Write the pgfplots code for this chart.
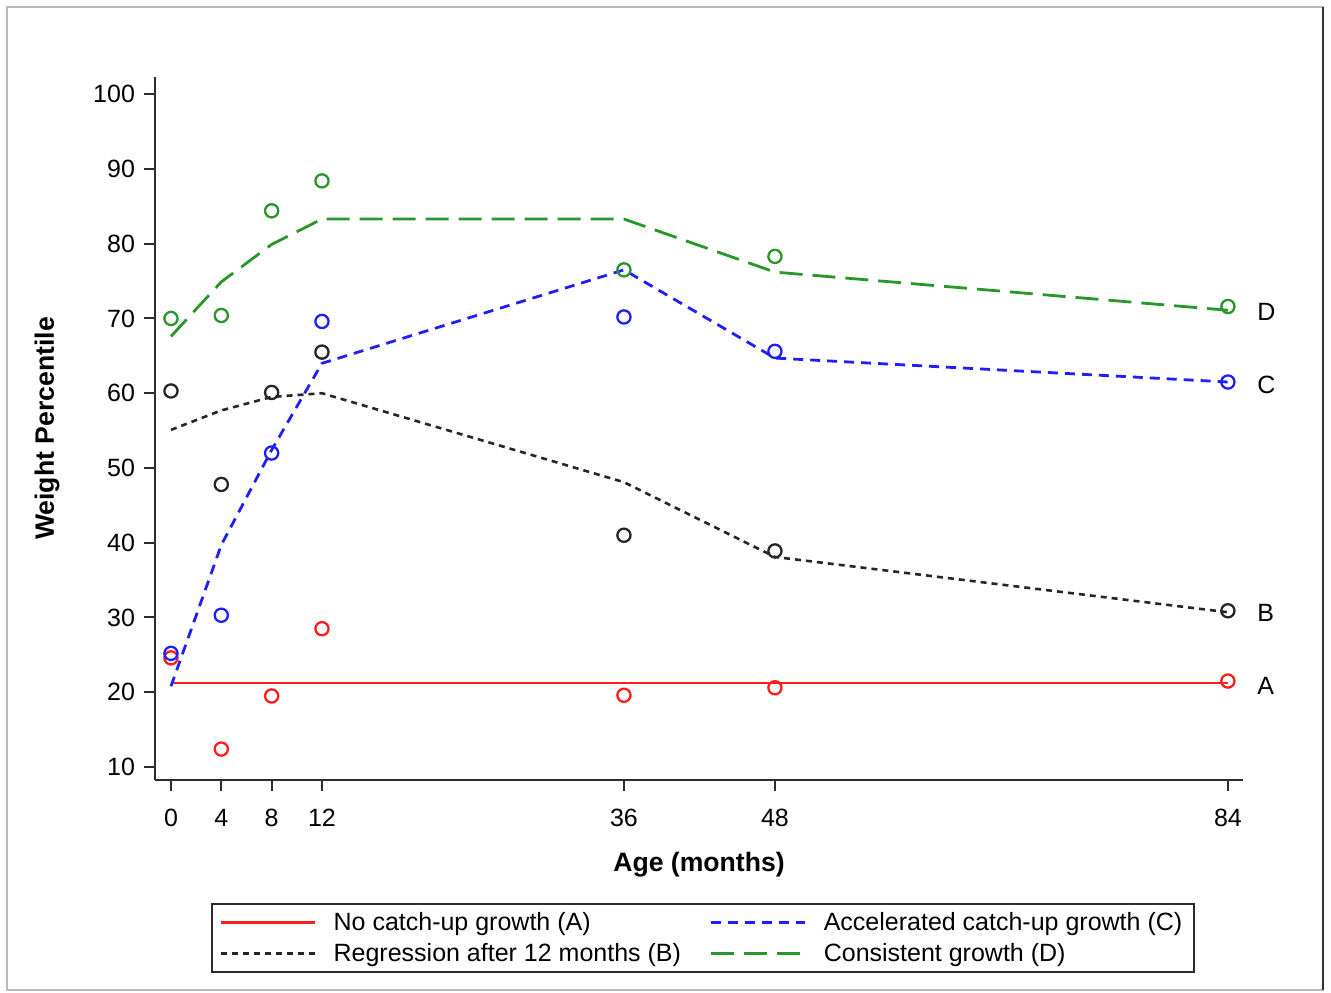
\documentclass[border=0pt]{standalone}
\usepackage{pgfplots}
\pgfplotsset{compat=1.18}
\usepackage{fontspec}
\setmainfont{Liberation Sans}
\definecolor{cRed}{RGB}{255,30,30}
\definecolor{cBlue}{RGB}{30,30,255}
\definecolor{cGreen}{RGB}{40,150,40}
\definecolor{cAxis}{RGB}{45,45,45}
\newcommand{\fnt}{\fontsize{12.5}{15}\selectfont}
\begin{document}
\begin{tikzpicture}
\begin{axis}[
  name=ax,
  scale only axis, width=544pt, height=351.5pt,
  xmin=-1.27, xmax=85.2, ymin=8.26, ymax=102.3,
  clip=false,
  axis x line*=bottom, axis y line*=left,
  axis line style={cAxis, line width=1pt},
  tick align=outside, major tick length=5.5pt,
  tick style={cAxis, line width=1pt},
  xtick={0,4,8,12,36,48,84},
  ytick={10,20,...,100},
  /pgf/number format/assume math mode=true,
  tick label style={font=\fnt},
  xticklabel style={yshift=-5.5pt},
  yticklabel style={xshift=-1pt},
  xlabel={\bfseries Age (months)},
  ylabel={\bfseries Weight Percentile},
  every axis x label/.style={at={(axis description cs:0.5,-0.1209)},anchor=center,font=\fontsize{13.3}{16}\selectfont},
  every axis y label/.style={at={(axis description cs:-0.0993,0.5)},rotate=90,anchor=center,font=\fontsize{13.3}{16}\selectfont},
  legend columns=2,
  legend image code/.code={\draw[#1] (0pt,0pt) -- (47pt,0pt);},
  legend cell align=left,
  legend style={at={(0.0515,-0.175)}, anchor=north west, draw=cAxis, line width=1pt,
    font=\fnt, inner xsep=4pt, inner ysep=2pt, row sep=1pt,
    /tikz/column 1/.style={column sep=6.5pt},
    /tikz/column 2/.style={column sep=12.5pt},
    /tikz/column 3/.style={column sep=6.5pt}},
]
% observed points
\addplot[only marks, mark=o, mark size=3.3pt, cRed, mark options={line width=1.15pt}, forget plot] coordinates
 {(0,24.6) (4,12.4) (8,19.5) (12,28.5) (36,19.6) (48,20.6) (84,21.5)};
\addplot[only marks, mark=o, mark size=3.3pt, black!85, mark options={line width=1.15pt}, forget plot] coordinates
 {(0,60.3) (4,47.8) (8,60.1) (12,65.5) (36,41.0) (48,38.9) (84,30.9)};
\addplot[only marks, mark=o, mark size=3.3pt, cBlue, mark options={line width=1.15pt}, forget plot] coordinates
 {(0,25.2) (4,30.3) (8,52.0) (12,69.6) (36,70.2) (48,65.6) (84,61.5)};
\addplot[only marks, mark=o, mark size=3.3pt, cGreen, mark options={line width=1.15pt}, forget plot] coordinates
 {(0,70.0) (4,70.4) (8,84.4) (12,88.4) (36,76.5) (48,78.3) (84,71.6)};
% fitted lines
\addplot[cRed, line width=1.2pt, no marks] coordinates
 {(0,21.2) (4,21.2) (8,21.2) (12,21.2) (36,21.2) (48,21.2) (84,21.2)};
\addlegendentry{No catch-up growth (A)}
\addplot[cBlue, line width=1.4pt, no marks, dash pattern=on 5pt off 3.5pt] coordinates
 {(0,20.8) (4,39.7) (8,52.4) (12,64.0) (36,76.5) (48,64.7) (84,61.5)};
\addlegendentry{Accelerated catch-up growth (C)}
\addplot[black!85, line width=1.3pt, no marks, dash pattern=on 3pt off 2.5pt] coordinates
 {(0,55.1) (4,57.7) (8,59.5) (12,60.0) (36,48.1) (48,38.1) (84,30.7)};
\addlegendentry{Regression after 12 months (B)}
\addplot[cGreen, line width=1.4pt, no marks, dash pattern=on 11.5pt off 5pt] coordinates
 {(0,67.6) (4,74.9) (8,79.9) (12,83.3) (36,83.3) (48,76.2) (84,71.1)};
\addlegendentry{Consistent growth (D)}
% curve labels
\node[anchor=west, inner sep=0pt, font=\fnt, xshift=14.5pt] at (axis cs:84,70.9) {D};
\node[anchor=west, inner sep=0pt, font=\fnt, xshift=14.5pt] at (axis cs:84,61.1) {C};
\node[anchor=west, inner sep=0pt, font=\fnt, xshift=14.5pt] at (axis cs:84,30.6) {B};
\node[anchor=west, inner sep=0pt, font=\fnt, xshift=14.5pt] at (axis cs:84,20.9) {A};
\end{axis}
\pgfresetboundingbox
\useasboundingbox ([shift={(-77.5pt,-106pt)}]ax.south west) rectangle ([shift={(588pt,390pt)}]ax.south west);
\draw[gray!55, line width=1pt] ([shift={(-74pt,-105pt)}]ax.south west) rectangle ([shift={(584pt,386.5pt)}]ax.south west);
\draw[black!80, line width=1.2pt] ([shift={(584pt,-105pt)}]ax.south west) -- ([shift={(584pt,386.5pt)}]ax.south west);
\end{tikzpicture}
\end{document}
